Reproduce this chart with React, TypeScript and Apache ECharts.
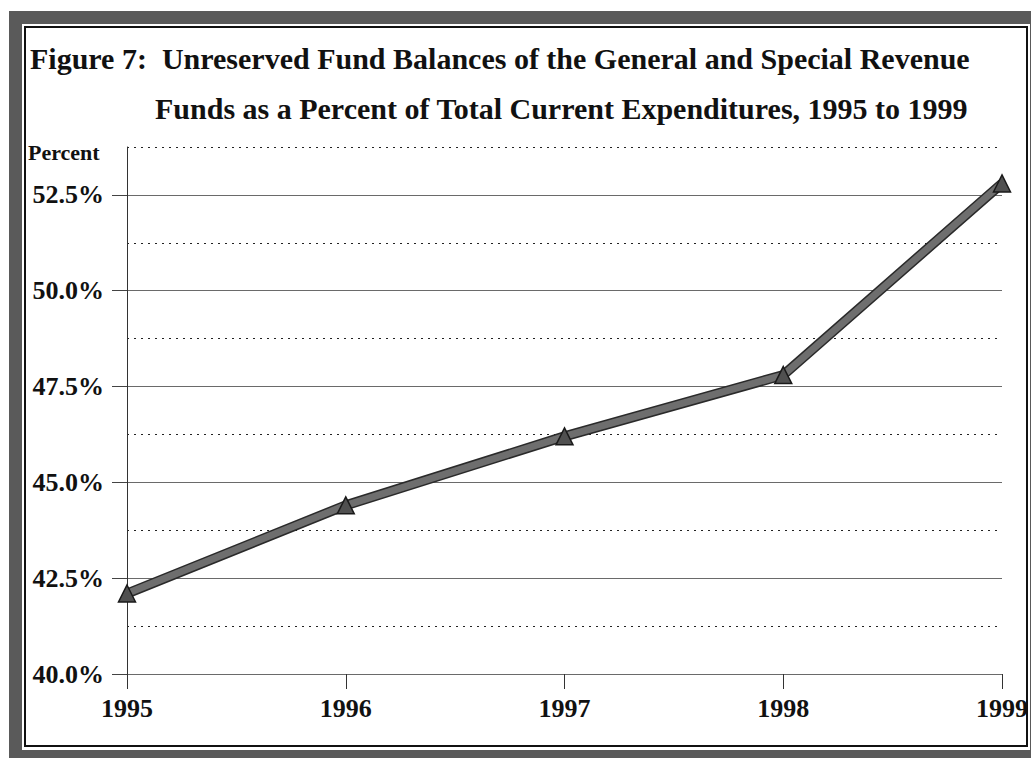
import React, { useEffect, useRef } from "react";
import * as echarts from "echarts";

const years = ["1995", "1996", "1997", "1998", "1999"];
const percentValues = [42.1, 44.4, 46.2, 47.8, 52.8];
const solidTicks = [40, 42.5, 45, 47.5, 50, 52.5];
const dottedTicks = [41.25, 43.75, 46.25, 48.75, 51.25, 53.75];
const titleLine1 = "Figure 7:  Unreserved Fund Balances of the General and Special Revenue";
const titleLine2 = "Funds as a Percent of Total Current Expenditures, 1995 to 1999";
const yAxisTitle = "Percent";

const SERIF = "'Liberation Serif', 'Times New Roman', serif";

export default function App() {
  const ref = useRef<HTMLDivElement>(null);
  useEffect(() => {
    if (!ref.current) return;
    const chart = echarts.init(ref.current, null, { renderer: "svg" });
    const option: any = {
      animation: false,
      backgroundColor: "#ffffff",
      grid: { left: 127, right: 29, top: 147, bottom: 84, containLabel: false },
      xAxis: {
        type: "category",
        data: years,
        boundaryGap: false,
        axisLine: { show: true, lineStyle: { color: "#6a6a6a", width: 1 } },
        axisTick: { show: true, length: 15, alignWithLabel: true, lineStyle: { color: "#333", width: 1 } },
        axisLabel: {
          margin: 21,
          fontFamily: SERIF,
          fontWeight: "bold",
          fontSize: 26,
          color: "#111",
        },
        splitLine: { show: false },
      },
      yAxis: [
        {
          type: "value",
          min: 40,
          max: 53.75,
          interval: 1.25,
          position: "left",
          axisLine: { show: true, onZero: false, lineStyle: { color: "#333", width: 1 } },
          axisTick: { show: false, customValues: dottedTicks },
          axisLabel: { show: false, customValues: dottedTicks },
          splitLine: { show: true, lineStyle: { color: "#222", type: [2, 5], width: 1 } },
        },
        {
          type: "value",
          min: 40,
          max: 53.75,
          interval: 2.5,
          position: "left",
          axisLine: { show: false },
          axisTick: { show: true, length: 15, customValues: solidTicks, lineStyle: { color: "#444", width: 1 } },
          axisLabel: {
            customValues: solidTicks,
            margin: 23,
            fontFamily: SERIF,
            fontWeight: "bold",
            fontSize: 26,
            color: "#111",
            formatter: (v: number) => (solidTicks.indexOf(v) >= 0 ? v.toFixed(1) + "%" : ""),
          },
          splitLine: { show: true, lineStyle: { color: "#6a6a6a", width: 1 } },
        },
      ],
      series: [
        {
          type: "line",
          data: percentValues,
          yAxisIndex: 0,
          symbol: "none",
          lineStyle: { color: "#2a2a2a", width: 10 },
          z: 3,
        },
        {
          type: "line",
          data: percentValues,
          yAxisIndex: 0,
          symbol: "triangle",
          symbolSize: 17,
          itemStyle: { color: "#505050", borderColor: "#1a1a1a", borderWidth: 1.5 },
          lineStyle: { color: "#6e6e6e", width: 7 },
          z: 4,
        },
      ],
      graphic: [
        {
          type: "rect",
          shape: { x: 9, y: 11, width: 1040, height: 760 },
          style: { fill: "#5a5a5a" },
          z: -10,
          silent: true,
        },
        {
          type: "rect",
          shape: { x: 22, y: 24, width: 1008, height: 726 },
          style: { fill: "#ffffff" },
          z: -9,
          silent: true,
        },
        {
          type: "rect",
          shape: { x: 25, y: 27, width: 1002, height: 719 },
          style: { fill: "#ffffff", stroke: "#111", lineWidth: 2 },
          z: -8,
          silent: true,
        },
        {
          type: "text",
          x: 30,
          y: 58,
          style: {
            text: titleLine1,
            fontFamily: SERIF,
            fontWeight: "bold",
            fontSize: 30,
            fill: "#111",
            verticalAlign: "middle",
            align: "left",
          },
        },
        {
          type: "text",
          x: 155,
          y: 108,
          style: {
            text: titleLine2,
            fontFamily: SERIF,
            fontWeight: "bold",
            fontSize: 30,
            fill: "#111",
            verticalAlign: "middle",
            align: "left",
          },
        },
        {
          type: "text",
          x: 28,
          y: 152,
          style: {
            text: yAxisTitle,
            fontFamily: SERIF,
            fontWeight: "bold",
            fontSize: 22,
            fill: "#111",
            verticalAlign: "middle",
            align: "left",
          },
        },
      ],
    };
    chart.setOption(option);
    return () => chart.dispose();
  }, []);
  return (
    <div
      ref={ref}
      style={{ position: "absolute", left: 0, top: 0, width: 1031, height: 758 }}
    />
  );
}
